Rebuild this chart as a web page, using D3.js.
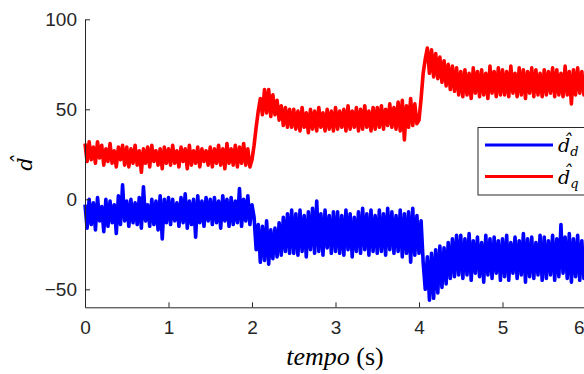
<!DOCTYPE html>
<html>
<head>
<meta charset="utf-8">
<script src="https://cdn.jsdelivr.net/npm/d3@7"></script>
<style>
  body { margin: 0; background: #fff; }
  svg { display: block; }
</style>
</head>
<body>
<script>
// sample spacing of the logged signals (s)
var dt = 0.025;

// d_q estimate, 20 samples per half second
var dq = [
  31,21,32,22,29,20,32,23,30,19,28,21,31,20,27,18,29,22,30,19,
  29,18,28,20,30,19,27,15,28,20,29,18,30,21,27,19,28,17,29,20,
  28,19,30,20,27,18,29,21,28,17,30,19,27,20,29,18,28,21,27,19,
  29,18,28,20,30,19,28,17,31,20,28,19,30,18,29,20,31,19,28,18,
  22,30,40,49,56,47,61,48,61,46,58,47,55,44,52,41,51,40,50,40,
  50,39,49,38,51,40,48,37,50,39,49,38,51,40,48,38,50,39,49,38,
  51,39,49,40,50,38,52,39,49,40,51,38,50,39,52,40,49,38,51,39,
  51,40,52,39,50,41,53,40,51,39,54,38,55,33,52,40,56,41,53,42,
  44,56,70,78,84,70,83,68,81,67,79,65,77,63,75,61,74,60,73,58,
  71,57,72,58,70,56,73,59,71,57,72,58,70,56,74,59,71,57,73,58,
  72,58,71,57,74,59,70,57,73,58,72,56,71,59,73,57,72,58,70,57,
  72,58,71,59,73,57,72,58,70,57,74,58,71,53,72,58,73,59,71,58,
  66
];

// d_d estimate
var dd = [
  -3,-16,0,-14,-2,-17,1,-12,-4,-18,0,-15,-1,-13,-3,-19,2,-14,8,-12,
  -1,-15,0,-13,-2,-14,1,-16,7,-12,-3,-15,0,-14,-1,-17,2,-22,0,-13,
  1,-14,0,-12,-2,-15,1,-13,3,-16,-1,-14,0,-21,2,-13,-1,-15,1,-12,
  0,-14,1,-13,-1,-16,2,-12,0,-15,1,-14,-1,-13,6,-15,0,-12,2,-14,
  -3,-10,-28,-14,-35,-15,-34,-12,-36,-17,-33,-16,-32,-13,-31,-10,-29,-8,-30,-6,
  -30,-8,-31,-6,-29,-9,-32,-7,-28,-5,-30,-1,-29,-8,-31,-6,-27,-9,-30,-7,
  -29,-7,-30,-9,-31,-6,-28,-8,-32,-10,-29,-7,-30,-5,-28,-8,-31,-6,-29,-9,
  -30,-6,-29,-8,-31,-5,-28,-7,-30,-9,-29,-6,-32,-8,-30,-7,-35,-5,-31,-9,
  -30,-12,-35,-50,-32,-56,-30,-55,-28,-52,-26,-49,-27,-47,-24,-44,-22,-43,-20,-42,
  -20,-44,-22,-42,-19,-45,-23,-41,-21,-43,-24,-46,-20,-42,-22,-44,-21,-41,-23,-45,
  -22,-43,-20,-45,-24,-41,-21,-44,-23,-42,-19,-46,-22,-43,-21,-44,-24,-42,-20,-45,
  -21,-44,-23,-42,-20,-45,-22,-43,-14,-41,-21,-44,-19,-46,-22,-43,-20,-45,-23,-44,
  -32
];

var xTicks = [0, 1, 2, 3, 4, 5, 6];
var yTicks = [-50, 0, 50, 100];
var legendSubs = ["d", "q"];

var width = 584, height = 374;
var axisColor = "#262626";

var svg = d3.select("body").append("svg").attr("width", width).attr("height", height);

var x = d3.scaleLinear().domain([0, 6]).range([85, 586]);
var y = d3.scaleLinear().domain([-60, 100]).range([307.3, 19.3]);

var line = d3.line()
    .x(function (d, i) { return x(i * dt); })
    .y(function (d) { return y(d); });

svg.append("path").datum(dq)
    .attr("d", line)
    .attr("fill", "none")
    .attr("stroke", "#ff0000")
    .attr("stroke-width", 3.6)
    .attr("stroke-linejoin", "round");

svg.append("path").datum(dd)
    .attr("d", line)
    .attr("fill", "none")
    .attr("stroke", "#0000ff")
    .attr("stroke-width", 3.6)
    .attr("stroke-linejoin", "round");

// axes, MATLAB style: ticks pointing inward, no box
var yAxis = svg.append("g").attr("transform", "translate(85,0)")
    .call(d3.axisLeft(y).tickValues(yTicks).tickFormat(d3.format("d"))
      .tickSizeInner(-5).tickSizeOuter(0).tickPadding(8));
var xAxis = svg.append("g").attr("transform", "translate(0,307.3)")
    .call(d3.axisBottom(x).tickValues(xTicks).tickFormat(d3.format("d"))
      .tickSizeInner(-5).tickSizeOuter(0).tickPadding(10));

[xAxis, yAxis].forEach(function (g) {
  g.selectAll("path, line").attr("stroke", axisColor).attr("stroke-width", 1);
  g.selectAll("text")
    .attr("fill", axisColor)
    .style("font-family", "Liberation Sans, Arial, sans-serif")
    .style("font-size", "19px");
});
xAxis.selectAll("text").attr("dy", "0.9em");
// last label sits on the window edge, keep it inside
xAxis.selectAll(".tick").filter(function (d) { return d === 6; })
    .select("text").attr("text-anchor", "end").attr("dx", -2);

// axis labels
svg.append("text")
    .attr("transform", "translate(32,164) rotate(-90)")
    .attr("text-anchor", "middle")
    .style("font-family", "DejaVu Serif, serif")
    .style("font-style", "italic")
    .style("font-size", "21px")
    .attr("fill", "#000")
    .text("d\u0302");

var xl = svg.append("text")
    .attr("x", 335).attr("y", 365)
    .attr("text-anchor", "middle")
    .style("font-family", "Liberation Serif, serif")
    .style("font-size", "26px")
    .attr("fill", "#000");
xl.append("tspan").style("font-style", "italic").text("tempo");
xl.append("tspan").text(" (s)");

// legend
var lg = svg.append("g").attr("transform", "translate(478,127.5)");
lg.append("rect")
    .attr("width", 120).attr("height", 67.5)
    .attr("fill", "#fff")
    .attr("stroke", axisColor)
    .attr("stroke-width", 1);

var legendColors = ["#0000ff", "#ff0000"];
var item = lg.selectAll("g.item").data(legendSubs).enter().append("g")
    .attr("class", "item")
    .attr("transform", function (d, i) { return "translate(0," + (17.5 + i * 31.5) + ")"; });
item.append("line")
    .attr("x1", 7).attr("x2", 75)
    .attr("stroke", function (d, i) { return legendColors[i]; })
    .attr("stroke-width", 3);
var lt = item.append("text")
    .attr("x", 80).attr("y", 7)
    .style("font-family", "DejaVu Serif, serif")
    .style("font-style", "italic")
    .style("font-size", "19px")
    .attr("fill", "#000");
lt.append("tspan").text("d\u0302");
lt.append("tspan")
    .attr("dy", 4)
    .style("font-size", "13px")
    .text(function (d) { return d; });
</script>
</body>
</html>
